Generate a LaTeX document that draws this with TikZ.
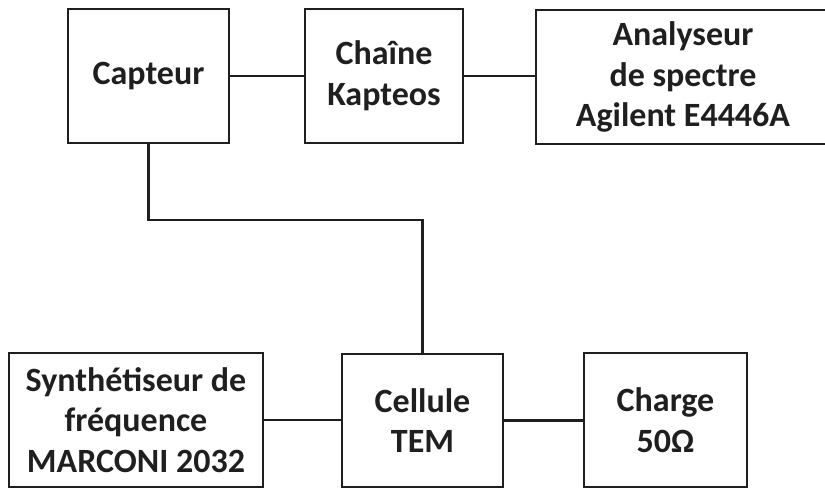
\documentclass[tikz,border=0pt]{standalone}
\usepackage{fontspec}
\setmainfont{Carlito}
\begin{document}
\begin{tikzpicture}[x=1pt,y=1pt,
  lbl/.style={font=\fontsize{34}{40.5}\selectfont\bfseries, text=black!88, align=center, inner sep=0pt},
  box/.style={lbl, draw=black!88, line width=2.4pt},
  wire/.style={draw=black!88, line width=2.4pt}]
\useasboundingbox (0,0) rectangle (825,489);
\node[box, minimum width=161, minimum height=134] (cap) at (148.5,413) {Capteur};
\node[box, minimum width=158, minimum height=134] (cha) at (384,413) {Chaîne\\Kapteos};
\node[box, minimum width=299, minimum height=134] (ana) at (685.5,412) {};
\node[lbl] (anat) at (683,412) {Analyseur\\de spectre\\Agilent E4446A};
\node[box, minimum width=254, minimum height=134] (syn) at (136,69) {Synthétiseur de\\fréquence\\MARCONI 2032};
\node[box, minimum width=161, minimum height=133] (cel) at (422.5,68.5) {Cellule\\TEM};
\node[box, minimum width=163, minimum height=134] (chg) at (665.5,69) {Charge\\50Ω};
\coordinate (k) at (422.5,269);
\draw[wire] (cap.east) -- (cha.west);
\draw[wire] (cha.east) -- (cha.east -| ana.west);
\draw[wire] (cap.south) |- (k) -- (cel.north);
\draw[wire] (syn.east) -- (syn.east -| cel.west);
\draw[wire] (cel.east) -- (cel.east -| chg.west);
\end{tikzpicture}
\end{document}
